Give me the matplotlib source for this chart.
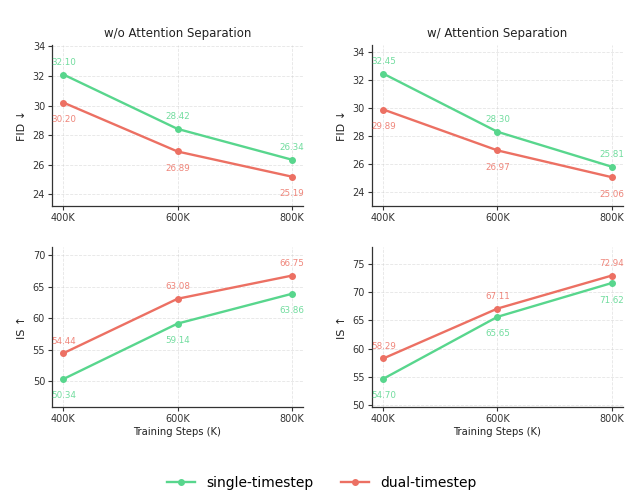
import matplotlib
matplotlib.use("Agg")
import matplotlib.pyplot as plt

steps = [400, 600, 800]
step_labels = ["400K", "600K", "800K"]

fid_wo_single = [32.10, 28.42, 26.34]
fid_wo_dual = [30.20, 26.89, 25.19]
fid_w_single = [32.45, 28.30, 25.81]
fid_w_dual = [29.89, 26.97, 25.06]

is_wo_single = [50.34, 59.14, 63.86]
is_wo_dual = [54.44, 63.08, 66.75]
is_w_single = [54.70, 65.65, 71.62]
is_w_dual = [58.29, 67.11, 72.94]

GREEN = "#58D68D"
RED = "#EC7063"

fig = plt.figure(figsize=(6.29, 5.04), dpi=100)

# [left, bottom, width, height] in figure fractions
boxes = {
    (0, 0): [0.0827, 0.5913, 0.399, 0.3194],
    (0, 1): [0.5914, 0.5913, 0.399, 0.3194],
    (1, 0): [0.0827, 0.1925, 0.399, 0.3174],
    (1, 1): [0.5914, 0.1925, 0.399, 0.3174],
}

panels = [
    ((0, 0), fid_wo_single, fid_wo_dual, "FID \u2193", (23.2, 34.1), "w/o Attention Separation", True),
    ((0, 1), fid_w_single, fid_w_dual, "FID \u2193", (23.0, 34.5), "w/ Attention Separation", True),
    ((1, 0), is_wo_single, is_wo_dual, "IS \u2191", (45.9, 71.3), None, False),
    ((1, 1), is_w_single, is_w_dual, "IS \u2191", (49.7, 78.0), None, False),
]

for pos, single, dual, ylab, ylim, title, lower_better in panels:
    ax = fig.add_axes(boxes[pos])
    ax.plot(steps, single, color=GREEN, lw=1.7, marker="o", ms=4, label="single-timestep")
    ax.plot(steps, dual, color=RED, lw=1.7, marker="o", ms=4, label="dual-timestep")
    # single above on FID, below on IS; dual the other way
    for x, s, d in zip(steps, single, dual):
        s_off = 8.6 if lower_better else -12.2
        d_off = -12.2 if lower_better else 8.6
        ax.annotate(f"{s:.2f}", (x, s), xytext=(0, s_off), textcoords="offset points",
                    ha="center", va="center", fontsize=6.3, color=GREEN, alpha=0.85)
        ax.annotate(f"{d:.2f}", (x, d), xytext=(0, d_off), textcoords="offset points",
                    ha="center", va="center", fontsize=6.3, color=RED, alpha=0.85)
    ax.set_ylim(*ylim)
    ax.set_xticks(steps)
    ax.set_xticklabels(step_labels)
    ax.tick_params(labelsize=7, length=3, width=0.8, colors="#333333", pad=2)
    ax.set_ylabel(ylab, fontsize=8, color="#222222", labelpad=4)
    if title:
        ax.set_title(title, fontsize=8.5, color="#222222", pad=6)
    else:
        ax.set_xlabel("Training Steps (K)", fontsize=7.2, color="#222222", labelpad=2)
    ax.grid(True, linestyle="--", linewidth=0.6, color="#cccccc", alpha=0.5)
    for side in ("top", "right"):
        ax.spines[side].set_visible(False)
    for side in ("left", "bottom"):
        ax.spines[side].set_color("#333333")
        ax.spines[side].set_linewidth(0.9)

handles, labels = fig.axes[0].get_legend_handles_labels()
fig.legend(handles, labels, loc="center", bbox_to_anchor=(0.512, 0.042), ncol=2,
           frameon=False, fontsize=10)

fig.savefig("out.png", dpi=100)
